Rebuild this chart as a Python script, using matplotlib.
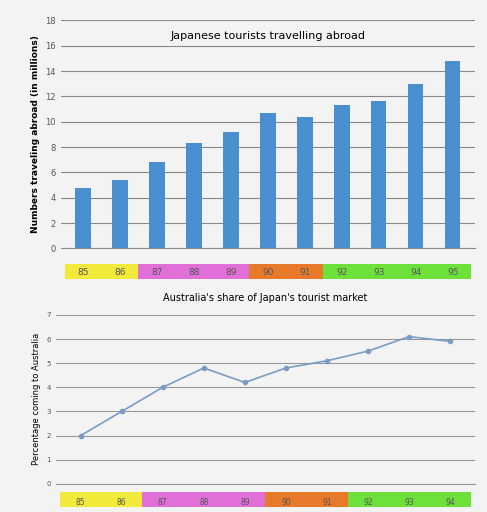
import matplotlib
matplotlib.use("Agg")
import matplotlib.pyplot as plt
from matplotlib.patches import Rectangle
from matplotlib.transforms import blended_transform_factory

years_top = ["85","86","87","88","89","90","91","92","93","94","95"]
tourists = [4.8, 5.4, 6.8, 8.3, 9.2, 10.7, 10.4, 11.3, 11.6, 13.0, 14.8]
colors_top = ["#f2ea3a","#f2ea3a","#e070d8","#e070d8","#e070d8","#e8782a","#e8782a","#6ee03a","#6ee03a","#6ee03a","#6ee03a"]

years_bot = ["85","86","87","88","89","90","91","92","93","94"]
share = [2.0, 3.0, 4.0, 4.8, 4.2, 4.8, 5.1, 5.5, 6.1, 5.9]
colors_bot = ["#f2ea3a","#f2ea3a","#e070d8","#e070d8","#e070d8","#e8782a","#e8782a","#6ee03a","#6ee03a","#6ee03a"]

fig = plt.figure(figsize=(4.87, 5.12), dpi=100, facecolor="#f3f3f3")

def bands(ax, colors, y0, h):
    tr = blended_transform_factory(ax.transData, ax.transAxes)
    for i, c in enumerate(colors):
        ax.add_patch(Rectangle((i - 0.5, y0), 1.0, h, transform=tr, facecolor=c,
                               edgecolor="none", clip_on=False, zorder=0))

ax1 = fig.add_axes([0.125, 0.515, 0.85, 0.445], facecolor="#f3f3f3")
x = range(len(years_top))
ax1.bar(x, tourists, width=0.42, color="#4a8fd0")
ax1.set_ylim(0, 18)
ax1.set_yticks(range(0, 19, 2))
ax1.set_xlim(-0.6, len(years_top) - 0.4)
ax1.yaxis.grid(True, color="#888888", lw=0.8)
ax1.set_axisbelow(True)
ax1.set_xticks(list(x))
ax1.set_xticklabels(years_top, fontsize=6.5, color="#555555")
ax1.tick_params(axis="x", length=0, pad=14)
ax1.tick_params(axis="y", labelsize=6, length=0, colors="#555555")
bands(ax1, colors_top, -0.135, 0.065)
for s in ["top", "right", "left"]:
    ax1.spines[s].set_visible(False)
ax1.spines["bottom"].set_color("#888888")
ax1.set_title("Japanese tourists travelling abroad", fontsize=8, y=0.88)
ax1.set_ylabel("Numbers traveling abroad (in millions)", fontsize=6.5, fontweight="bold")

ax2 = fig.add_axes([0.115, 0.055, 0.86, 0.33], facecolor="#f3f3f3")
x2 = range(len(years_bot))
ax2.plot(x2, share, color="#7a9cc4", marker="o", markersize=3, lw=1.2)
ax2.set_ylim(0, 7)
ax2.set_yticks(range(0, 8))
ax2.set_xlim(-0.6, len(years_bot) - 0.4)
ax2.yaxis.grid(True, color="#999999", lw=0.8)
ax2.set_xticks(list(x2))
ax2.set_xticklabels(years_bot, fontsize=5.5, color="#555555")
ax2.tick_params(axis="x", length=0, pad=10)
ax2.tick_params(axis="y", labelsize=5, length=0, colors="#555555")
bands(ax2, colors_bot, -0.135, 0.085)
for s in ["top", "right", "left"]:
    ax2.spines[s].set_visible(False)
ax2.spines["bottom"].set_color("#999999")
ax2.set_title("Australia's share of Japan's tourist market", fontsize=7, pad=10)
ax2.set_ylabel("Percentage coming to Australia", fontsize=6)

fig.savefig("out.png", dpi=100, facecolor=fig.get_facecolor())
